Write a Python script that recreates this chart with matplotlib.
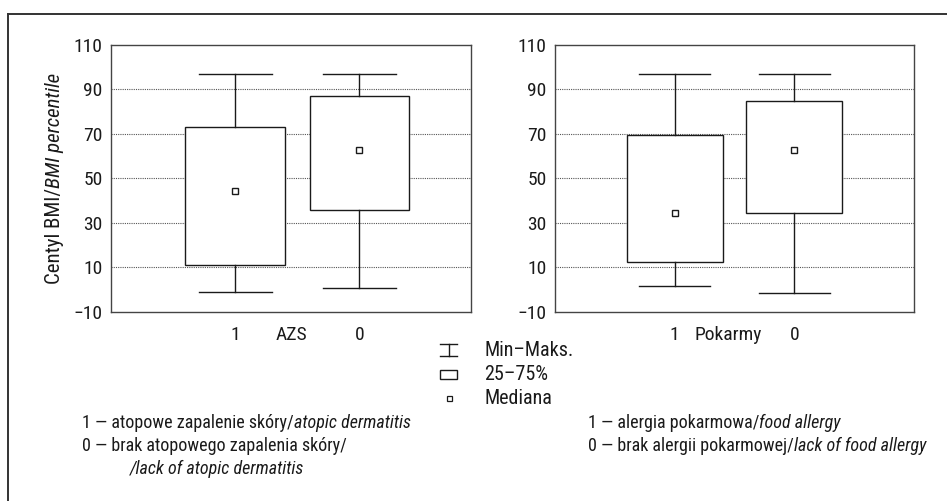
import matplotlib
matplotlib.use("Agg")
import matplotlib.pyplot as plt
from matplotlib import font_manager
from matplotlib.lines import Line2D
from matplotlib.patches import Rectangle

# values (BMI percentile)
groups = ["1", "0"]
azs_min = [-1.0, 0.5]
azs_q1 = [11.0, 35.8]
azs_med = [44.2, 62.8]
azs_q3 = [73.0, 87.0]
azs_max = [97.0, 97.0]

pok_min = [1.5, -1.5]
pok_q1 = [12.5, 34.6]
pok_med = [34.6, 62.7]
pok_q3 = [69.4, 84.8]
pok_max = [97.0, 97.0]

yticks = [-10, 10, 30, 50, 70, 90, 110]
gridlines = [10, 30, 50, 70, 90]

names = {f.name for f in font_manager.fontManager.ttflist}
if "Roboto Condensed" in names:
    plt.rcParams["font.family"] = ["Roboto Condensed", "DejaVu Sans"]
else:
    plt.rcParams["font.family"] = ["DejaVu Sans"]
    plt.rcParams["font.stretch"] = "condensed"

INK = "#1a1a1a"
W, H = 947, 501
fig = plt.figure(figsize=(W / 100, H / 100), dpi=100)

# overlay in pixel coordinates for the frame, legend and notes
ov = fig.add_axes([0, 0, 1, 1])
ov.set_xlim(0, W)
ov.set_ylim(H, 0)
ov.axis("off")
ov.add_line(Line2D([8, W], [13.5, 13.5], color="#333333", lw=1.4))
ov.add_line(Line2D([8, 8], [13.5, H], color="#333333", lw=1.4))


def boxpanel(rect, xmax, mins, q1s, meds, q3s, maxs, name):
    ax = fig.add_axes(rect)
    stats = []
    for i in range(len(groups)):
        stats.append({"whislo": mins[i], "q1": q1s[i], "med": meds[i],
                      "q3": q3s[i], "whishi": maxs[i], "fliers": []})
    ax.bxp(stats, positions=[1, 2], widths=0.8, capwidths=0.59,
           patch_artist=True, showfliers=False,
           boxprops=dict(facecolor="white", edgecolor=INK, lw=1.0),
           whiskerprops=dict(color=INK, lw=1.0),
           capprops=dict(color=INK, lw=1.0),
           medianprops=dict(linestyle="none"), zorder=3)
    ax.plot([1, 2], meds, "s", ms=4.3, mfc="white", mec=INK, mew=1.0, zorder=4)
    for g in gridlines:
        ax.axhline(g, color="#555555", lw=0.8, ls=(0, (1, 1)), zorder=1)
    ax.set_xlim(0, xmax)
    ax.set_ylim(-10, 110)
    ax.set_yticks(yticks)
    ax.set_yticklabels(["\u221210" if t < 0 else str(t) for t in yticks])
    ax.set_xticks([1, 2])
    ax.set_xticklabels(groups)
    ax.tick_params(length=0, labelsize=14, colors=INK)
    ax.tick_params(axis="x", pad=10)
    ax.tick_params(axis="y", pad=6)
    for s in ax.spines.values():
        s.set_color("#444444")
        s.set_linewidth(1.0)
    ax.text(1.45, -0.052, name, transform=ax.get_xaxis_transform(),
            ha="center", va="top", fontsize=14, color=INK)
    return ax


axl = boxpanel([111 / W, 1 - 311.7 / H, 360 / W, 266.7 / H], 2.9,
               azs_min, azs_q1, azs_med, azs_q3, azs_max, "AZS")
axr = boxpanel([555 / W, 1 - 311.7 / H, 359 / W, 266.7 / H], 3.0,
               pok_min, pok_q1, pok_med, pok_q3, pok_max, "Pokarmy")

renderer = fig.canvas.get_renderer()

# y label with italic english part
lab1 = ov.text(55, 0, "Centyl BMI/", rotation=90, ha="center", va="bottom",
               fontsize=15, color=INK)
lab2 = ov.text(55, 0, "BMI percentile", rotation=90, ha="center", va="bottom",
               fontsize=15, color=INK, style="italic")
h1 = lab1.get_window_extent(renderer).height
h2 = lab2.get_window_extent(renderer).height
ybot = 178 + (h1 + h2) / 2
lab1.set_y(ybot)
lab2.set_y(ybot - h1)

# legend
ov.add_line(Line2D([440, 457], [344, 344], color=INK, lw=1.0))
ov.add_line(Line2D([440, 457], [356, 356], color=INK, lw=1.0))
ov.add_line(Line2D([448.5, 448.5], [344, 356], color=INK, lw=1.0))
ov.add_patch(Rectangle((440, 370), 17, 9, fc="white", ec=INK, lw=1.0))
ov.plot([448.5], [398], "s", ms=3.6, mfc="white", mec=INK, mew=0.9)
for txt, yy in [("Min\u2013Maks.", 351), ("25\u201375%", 374), ("Mediana", 398)]:
    ov.text(484, yy, txt, ha="left", va="center", fontsize=14.5, color=INK)


def row(x, y, parts):
    for txt, st in parts:
        t = ov.text(x, y, txt, ha="left", va="baseline", fontsize=13,
                    color=INK, style=st)
        x += t.get_window_extent(renderer).width


row(82, 428, [("1 \u2014 atopowe zapalenie skóry/", "normal"),
              ("atopic dermatitis", "italic")])
row(82, 451, [("0 \u2014 brak atopowego zapalenia skóry/", "normal")])
row(130, 474, [("/lack of atopic dermatitis", "italic")])
row(588, 428, [("1 \u2014 alergia pokarmowa/", "normal"),
               ("food allergy", "italic")])
row(588, 451, [("0 \u2014 brak alergii pokarmowej/", "normal"),
               ("lack of food allergy", "italic")])

fig.savefig("out.png", dpi=100)
